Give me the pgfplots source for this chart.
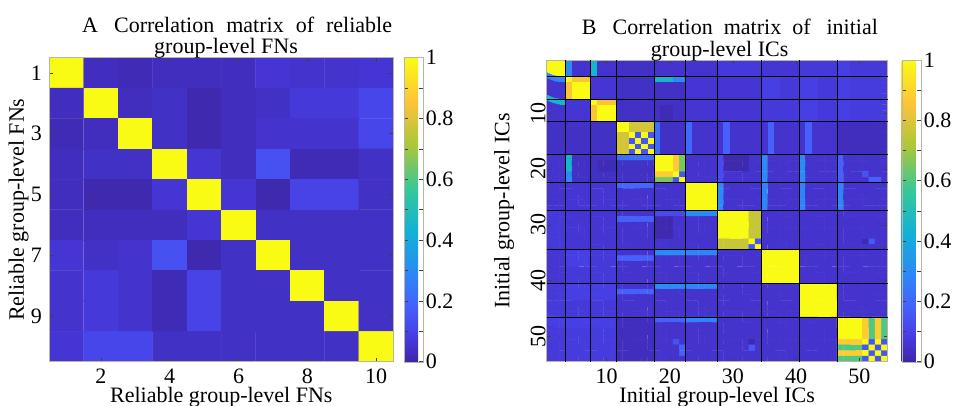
\documentclass[border=0pt]{standalone}
\usepackage{pgfplots}
\pgfplotsset{compat=1.18}
\usepackage{fontspec}
\setmainfont{Liberation Serif}
\definecolor{boxgray}{RGB}{185,180,165}
\pgfplotsset{
  colormap={parula}{rgb(0pt)=(0.2422,0.1504,0.6603); rgb(59pt)=(0.2691,0.2094,0.8249); rgb(75pt)=(0.2740,0.2280,0.8612); rgb(98pt)=(0.2788,0.2598,0.9035); rgb(122pt)=(0.2811,0.2930,0.9352); rgb(184pt)=(0.2726,0.3804,0.9881); rgb(286pt)=(0.1786,0.5289,0.9682); rgb(429pt)=(0.0689,0.6948,0.8394); rgb(571pt)=(0.2161,0.7843,0.5923); rgb(714pt)=(0.6720,0.7793,0.2227); rgb(857pt)=(0.9970,0.7659,0.2199); rgb(1000pt)=(0.9769,0.9839,0.0805)},
  colorbar shift/.style={},
  corrmat/.style={
    scale only axis, axis on top, enlargelimits=false, y dir=reverse,
    colormap name=parula, point meta min=0, point meta max=1,
    tick align=inside, major tick length=4pt,
    tick style={black!75, line width=0.5pt},
    axis line style={draw=boxgray, line width=0.7pt},
    /pgf/number format/assume math mode=true,
    every axis title/.style={at={(axis description cs:0,1)}, anchor=south west, align=left, yshift=-8.5pt, font=\fontsize{22}{21.5}\selectfont},
    every axis x label/.style={at={([yshift=-35.3pt]axis description cs:0.5,0)}, anchor=center},
    every axis y label/.style={at={([xshift=-30.8pt]axis description cs:0,0.5)}, rotate=90, anchor=center},
    colorbar,
    colorbar style={
      at={(parent axis.north east)}, anchor=north west,
      scale only axis, y dir=normal,
      ytick={0,0.2,0.4,0.6,0.8,1}, minor ytick={0.1,0.3,0.5,0.7,0.9},
      tick align=inside, major tick length=4pt, minor tick length=4pt,
      yticklabel pos=right,
      yticklabel style={inner sep=3pt, /pgf/number format/assume math mode=true},
      axis line style={draw=boxgray},
      tick style={black!75, line width=0.5pt},
    },
  },
}
\begin{document}
\fontsize{22}{24}\selectfont
\begin{tikzpicture}[x=1pt,y=1pt]
\path[use as bounding box] (0,0) rectangle (955,405);
\begin{axis}[corrmat, at={(49.3pt,43.3pt)}, anchor=south west, width=344pt, height=304pt,
  xmin=0.5, xmax=10.5, ymin=0.5, ymax=10.5,
  xtick={2,4,6,8,10}, ytick={1,3,5,7,9},
  xlabel={Reliable group-level FNs}, ylabel={Reliable group-level FNs},
  title={A\hspace{16pt}Correlation\hspace{12pt}matrix\hspace{12pt}of\hspace{12pt}reliable\\\hspace*{72pt}group-level FNs},
  title style={xshift=25.4pt},
  colorbar style={xshift=10.7pt, width=18.7pt}]
\addplot[matrix plot*, mesh/cols=10, point meta=explicit] table[row sep=\\, x expr={mod(\coordindex,10)+1}, y expr={floor(\coordindex/10)+1}, meta=c] {
c\\
1\\0.03\\0.02\\0.03\\0.03\\0.03\\0.06\\0.05\\0.05\\0.06\\
0.03\\1\\0.03\\0.04\\0.01\\0.03\\0.04\\0.07\\0.07\\0.11\\
0.02\\0.03\\1\\0.04\\0.01\\0.03\\0.05\\0.05\\0.05\\0.11\\
0.03\\0.04\\0.04\\1\\0.06\\0.03\\0.14\\0.02\\0.02\\0.04\\
0.03\\0.01\\0.01\\0.06\\1\\0.06\\0.01\\0.1\\0.1\\0.04\\
0.03\\0.03\\0.03\\0.03\\0.06\\1\\0.04\\0.04\\0.04\\0.04\\
0.06\\0.04\\0.05\\0.14\\0.01\\0.04\\1\\0.04\\0.04\\0.04\\
0.05\\0.07\\0.05\\0.02\\0.1\\0.04\\0.04\\1\\0.04\\0.04\\
0.05\\0.07\\0.05\\0.02\\0.1\\0.04\\0.04\\0.04\\1\\0.04\\
0.06\\0.11\\0.11\\0.04\\0.04\\0.04\\0.04\\0.04\\0.04\\1\\
};
\end{axis}
\begin{axis}[corrmat, at={(546.7pt,43.3pt)}, anchor=south west, width=341pt, height=301.7pt,
  xmin=0.5, xmax=54.5, ymin=0.5, ymax=54.5,
  xtick={10,20,30,40,50}, ytick={10,20,30,40,50},
  yticklabel style={rotate=90, anchor=south, inner sep=1pt},
  extra x ticks={3.5,7.5,11.5,17.5,22.5,27.5,34.5,40.5,46.5},
  extra y ticks={3.5,7.5,11.5,17.5,22.5,27.5,34.5,40.5,46.5},
  extra x tick labels={}, extra y tick labels={},
  extra x tick style={grid=major, major grid style={black, line width=1pt}, major tick length=0pt},
  extra y tick style={grid=major, major grid style={black, line width=1pt}, major tick length=0pt},
  xlabel={Initial group-level ICs}, ylabel={Initial group-level ICs},
  ylabel style={at={([xshift=-42.7pt]axis description cs:0,0.5)}},
  title={B\hspace{16pt}Correlation\hspace{11pt}matrix\hspace{11pt}of\hspace{16pt}initial\\\hspace*{69pt}group-level ICs},
  title style={xshift=27.7pt},
  colorbar style={xshift=14pt, width=19pt}]
\addplot[matrix plot*, mesh/cols=54, point meta=explicit] table[row sep=\\, x expr={mod(\coordindex,54)+1}, y expr={floor(\coordindex/54)+1}, meta=c] {
c\\
1\\1\\1\\ 0.3\\0.05\\0.05\\0.05\\ 0.45\\0.05\\0.05\\0.05\\ 0.04\\0.04\\0.04\\0.04\\0.04\\0.04\\ 0.05\\0.05\\0.05\\0.05\\0.05\\ 0.05\\0.05\\0.05\\0.05\\0.05\\ 0.07\\0.07\\0.07\\0.07\\0.07\\0.07\\0.07\\ 0.06\\0.06\\0.06\\0.06\\0.06\\0.06\\ 0.07\\0.07\\0.07\\0.07\\0.07\\0.07\\ 0.09\\0.09\\0.07\\0.07\\0.07\\0.07\\0.07\\0.07\\
1\\1\\1\\ 0.3\\0.05\\0.05\\0.05\\ 0.45\\0.05\\0.05\\0.05\\ 0.04\\0.04\\0.04\\0.04\\0.04\\0.04\\ 0.05\\0.05\\0.05\\0.05\\0.05\\ 0.05\\0.05\\0.05\\0.05\\0.05\\ 0.07\\0.07\\0.07\\0.07\\0.07\\0.07\\0.07\\ 0.06\\0.06\\0.06\\0.06\\0.06\\0.06\\ 0.07\\0.07\\0.07\\0.07\\0.07\\0.07\\ 0.09\\0.09\\0.07\\0.07\\0.07\\0.07\\0.07\\0.07\\
1\\1\\1\\ 0.3\\0.05\\0.05\\0.05\\ 0.45\\0.05\\0.05\\0.05\\ 0.04\\0.04\\0.04\\0.04\\0.04\\0.04\\ 0.05\\0.05\\0.05\\0.05\\0.05\\ 0.05\\0.05\\0.05\\0.05\\0.05\\ 0.07\\0.07\\0.07\\0.07\\0.07\\0.07\\0.07\\ 0.06\\0.06\\0.06\\0.06\\0.06\\0.06\\ 0.07\\0.07\\0.07\\0.07\\0.07\\0.07\\ 0.09\\0.09\\0.07\\0.07\\0.07\\0.07\\0.07\\0.07\\
0.3\\0.3\\0.3\\ 1\\0.85\\0.85\\0.85\\ 0.06\\0.06\\0.06\\0.06\\ 0.04\\0.04\\0.04\\0.04\\0.04\\0.04\\ 0.45\\0.45\\0.45\\0.3\\0.3\\ 0.06\\0.06\\0.06\\0.06\\0.06\\ 0.06\\0.06\\0.06\\0.06\\0.06\\0.06\\0.06\\ 0.09\\0.09\\0.09\\0.07\\0.07\\0.07\\ 0.09\\0.09\\0.09\\0.07\\0.07\\0.07\\ 0.09\\0.09\\0.08\\0.08\\0.08\\0.08\\0.08\\0.08\\
0.05\\0.05\\0.05\\ 0.85\\1\\1\\1\\ 0.06\\0.06\\0.06\\0.06\\ 0.04\\0.04\\0.04\\0.04\\0.04\\0.04\\ 0.04\\0.04\\0.04\\0.04\\0.04\\ 0.06\\0.06\\0.06\\0.06\\0.06\\ 0.06\\0.06\\0.06\\0.06\\0.06\\0.06\\0.06\\ 0.09\\0.09\\0.09\\0.07\\0.07\\0.07\\ 0.09\\0.09\\0.09\\0.07\\0.07\\0.07\\ 0.09\\0.09\\0.08\\0.08\\0.08\\0.08\\0.08\\0.08\\
0.05\\0.05\\0.05\\ 0.85\\1\\1\\1\\ 0.06\\0.06\\0.06\\0.06\\ 0.04\\0.04\\0.04\\0.04\\0.04\\0.04\\ 0.04\\0.04\\0.04\\0.04\\0.04\\ 0.06\\0.06\\0.06\\0.06\\0.06\\ 0.06\\0.06\\0.06\\0.06\\0.06\\0.06\\0.06\\ 0.09\\0.09\\0.09\\0.07\\0.07\\0.07\\ 0.09\\0.09\\0.09\\0.07\\0.07\\0.07\\ 0.09\\0.09\\0.08\\0.08\\0.08\\0.08\\0.08\\0.08\\
0.05\\0.05\\0.05\\ 0.85\\1\\1\\1\\ 0.06\\0.06\\0.06\\0.06\\ 0.04\\0.04\\0.04\\0.04\\0.04\\0.04\\ 0.04\\0.04\\0.04\\0.04\\0.04\\ 0.06\\0.06\\0.06\\0.06\\0.06\\ 0.06\\0.06\\0.06\\0.06\\0.06\\0.06\\0.06\\ 0.09\\0.09\\0.09\\0.07\\0.07\\0.07\\ 0.09\\0.09\\0.09\\0.07\\0.07\\0.07\\ 0.09\\0.09\\0.08\\0.08\\0.08\\0.08\\0.08\\0.08\\
0.45\\0.45\\0.45\\ 0.06\\0.06\\0.06\\0.06\\ 1\\0.85\\0.85\\0.85\\ 0.04\\0.04\\0.04\\0.04\\0.04\\0.04\\ 0.04\\0.04\\0.04\\0.04\\0.04\\ 0.06\\0.06\\0.06\\0.06\\0.06\\ 0.06\\0.06\\0.06\\0.06\\0.06\\0.06\\0.06\\ 0.07\\0.07\\0.07\\0.07\\0.07\\0.07\\ 0.09\\0.09\\0.09\\0.07\\0.07\\0.07\\ 0.09\\0.09\\0.08\\0.08\\0.08\\0.08\\0.08\\0.08\\
0.05\\0.05\\0.05\\ 0.06\\0.06\\0.06\\0.06\\ 0.85\\1\\1\\1\\ 0.04\\0.04\\0.04\\0.04\\0.04\\0.04\\ 0.04\\0.02\\0.02\\0.04\\0.04\\ 0.06\\0.06\\0.06\\0.06\\0.06\\ 0.06\\0.06\\0.06\\0.06\\0.06\\0.06\\0.06\\ 0.07\\0.07\\0.07\\0.07\\0.07\\0.07\\ 0.09\\0.09\\0.09\\0.07\\0.07\\0.07\\ 0.09\\0.09\\0.08\\0.08\\0.08\\0.08\\0.08\\0.08\\
0.05\\0.05\\0.05\\ 0.06\\0.06\\0.06\\0.06\\ 0.85\\1\\1\\1\\ 0.04\\0.04\\0.04\\0.04\\0.04\\0.04\\ 0.04\\0.02\\0.02\\0.04\\0.04\\ 0.06\\0.06\\0.06\\0.06\\0.06\\ 0.06\\0.06\\0.06\\0.06\\0.06\\0.06\\0.06\\ 0.07\\0.07\\0.07\\0.07\\0.07\\0.07\\ 0.09\\0.09\\0.09\\0.07\\0.07\\0.07\\ 0.09\\0.09\\0.08\\0.08\\0.08\\0.08\\0.08\\0.08\\
0.05\\0.05\\0.05\\ 0.06\\0.06\\0.06\\0.06\\ 0.85\\1\\1\\1\\ 0.04\\0.04\\0.04\\0.04\\0.04\\0.04\\ 0.04\\0.02\\0.02\\0.04\\0.04\\ 0.06\\0.06\\0.06\\0.06\\0.06\\ 0.06\\0.06\\0.06\\0.06\\0.06\\0.06\\0.06\\ 0.07\\0.07\\0.07\\0.07\\0.07\\0.07\\ 0.09\\0.09\\0.09\\0.07\\0.07\\0.07\\ 0.09\\0.09\\0.08\\0.08\\0.08\\0.08\\0.08\\0.08\\
0.04\\0.04\\0.04\\ 0.04\\0.04\\0.04\\0.04\\ 0.04\\0.04\\0.04\\0.04\\ 1\\1\\0.78\\0.78\\0.78\\0.78\\ 0.22\\0.04\\0.04\\0.04\\0.04\\ 0.2\\0.05\\0.05\\0.05\\0.05\\ 0.05\\0.18\\0.05\\0.05\\0.05\\0.05\\0.05\\ 0.05\\0.18\\0.05\\0.05\\0.05\\0.05\\ 0.05\\0.18\\0.05\\0.05\\0.05\\0.05\\ 0.03\\0.03\\0.03\\0.03\\0.03\\0.03\\0.03\\0.03\\
0.04\\0.04\\0.04\\ 0.04\\0.04\\0.04\\0.04\\ 0.04\\0.04\\0.04\\0.04\\ 1\\1\\0.78\\0.78\\0.78\\0.78\\ 0.22\\0.04\\0.04\\0.04\\0.04\\ 0.2\\0.05\\0.05\\0.05\\0.05\\ 0.05\\0.18\\0.05\\0.05\\0.05\\0.05\\0.05\\ 0.05\\0.18\\0.05\\0.05\\0.05\\0.05\\ 0.05\\0.18\\0.05\\0.05\\0.05\\0.05\\ 0.03\\0.03\\0.03\\0.03\\0.03\\0.03\\0.03\\0.03\\
0.04\\0.04\\0.04\\ 0.04\\0.04\\0.04\\0.04\\ 0.04\\0.04\\0.04\\0.04\\ 0.78\\0.78\\1\\0.15\\1\\0.15\\ 0.22\\0.04\\0.04\\0.04\\0.04\\ 0.2\\0.05\\0.05\\0.05\\0.05\\ 0.05\\0.18\\0.05\\0.05\\0.05\\0.05\\0.05\\ 0.05\\0.18\\0.05\\0.05\\0.05\\0.05\\ 0.05\\0.18\\0.05\\0.05\\0.05\\0.05\\ 0.03\\0.03\\0.03\\0.03\\0.03\\0.03\\0.03\\0.03\\
0.04\\0.04\\0.04\\ 0.04\\0.04\\0.04\\0.04\\ 0.04\\0.04\\0.04\\0.04\\ 0.78\\0.78\\0.15\\1\\0.15\\1\\ 0.22\\0.04\\0.04\\0.04\\0.04\\ 0.2\\0.05\\0.05\\0.05\\0.05\\ 0.05\\0.18\\0.05\\0.05\\0.05\\0.05\\0.05\\ 0.05\\0.18\\0.05\\0.05\\0.05\\0.05\\ 0.05\\0.18\\0.05\\0.05\\0.05\\0.05\\ 0.03\\0.03\\0.03\\0.03\\0.03\\0.03\\0.03\\0.03\\
0.04\\0.04\\0.04\\ 0.04\\0.04\\0.04\\0.04\\ 0.04\\0.04\\0.04\\0.04\\ 0.78\\0.78\\1\\0.15\\1\\0.15\\ 0.22\\0.04\\0.04\\0.04\\0.04\\ 0.2\\0.05\\0.05\\0.05\\0.05\\ 0.05\\0.18\\0.05\\0.05\\0.05\\0.05\\0.05\\ 0.05\\0.18\\0.05\\0.05\\0.05\\0.05\\ 0.05\\0.18\\0.05\\0.05\\0.05\\0.05\\ 0.03\\0.03\\0.03\\0.03\\0.03\\0.03\\0.03\\0.03\\
0.04\\0.04\\0.04\\ 0.04\\0.04\\0.04\\0.04\\ 0.04\\0.04\\0.04\\0.04\\ 0.78\\0.78\\0.15\\1\\0.15\\1\\ 0.22\\0.04\\0.04\\0.04\\0.04\\ 0.2\\0.05\\0.05\\0.05\\0.05\\ 0.05\\0.18\\0.05\\0.05\\0.05\\0.05\\0.05\\ 0.05\\0.18\\0.05\\0.05\\0.05\\0.05\\ 0.05\\0.18\\0.05\\0.05\\0.05\\0.05\\ 0.03\\0.03\\0.03\\0.03\\0.03\\0.03\\0.03\\0.03\\
0.05\\0.05\\0.05\\ 0.45\\0.04\\0.04\\0.04\\ 0.04\\0.04\\0.04\\0.04\\ 0.22\\0.22\\0.22\\0.22\\0.22\\0.22\\ 1\\1\\1\\0.88\\0.65\\ 0.05\\0.05\\0.05\\0.05\\0.05\\ 0.12\\0.01\\0.01\\0.01\\0.01\\0.05\\0.05\\ 0.3\\0.05\\0.05\\0.05\\0.05\\0.05\\ 0.3\\0.05\\0.05\\0.05\\0.05\\0.05\\ 0.18\\0.05\\0.05\\0.05\\0.05\\0.05\\0.05\\0.05\\
0.05\\0.05\\0.05\\ 0.45\\0.04\\0.04\\0.04\\ 0.04\\0.02\\0.02\\0.02\\ 0.04\\0.04\\0.04\\0.04\\0.04\\0.04\\ 1\\1\\1\\0.88\\0.65\\ 0.05\\0.05\\0.05\\0.05\\0.05\\ 0.12\\0.01\\0.01\\0.01\\0.01\\0.05\\0.05\\ 0.3\\0.05\\0.05\\0.05\\0.05\\0.05\\ 0.3\\0.05\\0.05\\0.05\\0.05\\0.05\\ 0.18\\0.05\\0.05\\0.05\\0.05\\0.05\\0.05\\0.05\\
0.05\\0.05\\0.05\\ 0.45\\0.04\\0.04\\0.04\\ 0.04\\0.02\\0.02\\0.02\\ 0.04\\0.04\\0.04\\0.04\\0.04\\0.04\\ 1\\1\\1\\0.88\\0.65\\ 0.05\\0.05\\0.05\\0.05\\0.05\\ 0.12\\0.01\\0.01\\0.01\\0.01\\0.05\\0.05\\ 0.3\\0.05\\0.05\\0.05\\0.05\\0.05\\ 0.3\\0.05\\0.05\\0.05\\0.05\\0.05\\ 0.18\\0.05\\0.05\\0.05\\0.05\\0.05\\0.05\\0.05\\
0.05\\0.05\\0.05\\ 0.3\\0.04\\0.04\\0.04\\ 0.04\\0.04\\0.04\\0.04\\ 0.04\\0.04\\0.04\\0.04\\0.04\\0.04\\ 0.88\\0.88\\0.88\\1\\0.15\\ 0.05\\0.05\\0.05\\0.05\\0.05\\ 0.12\\0.05\\0.05\\0.05\\0.05\\0.05\\0.05\\ 0.3\\0.05\\0.05\\0.05\\0.05\\0.05\\ 0.3\\0.05\\0.05\\0.05\\0.05\\0.05\\ 0.18\\0.05\\0.05\\0.05\\0.14\\0.05\\0.05\\0.05\\
0.05\\0.05\\0.05\\ 0.3\\0.04\\0.04\\0.04\\ 0.04\\0.04\\0.04\\0.04\\ 0.04\\0.04\\0.04\\0.04\\0.04\\0.04\\ 0.65\\0.65\\0.65\\0.15\\1\\ 0.05\\0.05\\0.05\\0.05\\0.05\\ 0.12\\0.05\\0.05\\0.05\\0.05\\0.05\\0.05\\ 0.3\\0.05\\0.05\\0.05\\0.05\\0.05\\ 0.3\\0.05\\0.05\\0.05\\0.05\\0.05\\ 0.18\\0.05\\0.05\\0.05\\0.05\\0.18\\0.18\\0.05\\
0.05\\0.05\\0.05\\ 0.06\\0.06\\0.06\\0.06\\ 0.06\\0.06\\0.06\\0.06\\ 0.2\\0.2\\0.2\\0.2\\0.2\\0.2\\ 0.05\\0.05\\0.05\\0.05\\0.05\\ 1\\1\\1\\1\\1\\ 0.3\\0.05\\0.05\\0.05\\0.05\\0.05\\0.05\\ 0.28\\0.05\\0.05\\0.05\\0.05\\0.05\\ 0.28\\0.05\\0.05\\0.05\\0.05\\0.05\\ 0.28\\0.05\\0.05\\0.05\\0.05\\0.05\\0.05\\0.05\\
0.05\\0.05\\0.05\\ 0.06\\0.06\\0.06\\0.06\\ 0.06\\0.06\\0.06\\0.06\\ 0.05\\0.05\\0.05\\0.05\\0.05\\0.05\\ 0.05\\0.05\\0.05\\0.05\\0.05\\ 1\\1\\1\\1\\1\\ 0.3\\0.05\\0.05\\0.05\\0.05\\0.05\\0.05\\ 0.28\\0.05\\0.05\\0.05\\0.05\\0.05\\ 0.28\\0.05\\0.05\\0.05\\0.05\\0.05\\ 0.28\\0.05\\0.05\\0.05\\0.05\\0.05\\0.05\\0.05\\
0.05\\0.05\\0.05\\ 0.06\\0.06\\0.06\\0.06\\ 0.06\\0.06\\0.06\\0.06\\ 0.05\\0.05\\0.05\\0.05\\0.05\\0.05\\ 0.05\\0.05\\0.05\\0.05\\0.05\\ 1\\1\\1\\1\\1\\ 0.3\\0.05\\0.05\\0.05\\0.05\\0.05\\0.05\\ 0.28\\0.05\\0.05\\0.05\\0.05\\0.05\\ 0.28\\0.05\\0.05\\0.05\\0.05\\0.05\\ 0.28\\0.05\\0.05\\0.05\\0.05\\0.05\\0.05\\0.05\\
0.05\\0.05\\0.05\\ 0.06\\0.06\\0.06\\0.06\\ 0.06\\0.06\\0.06\\0.06\\ 0.05\\0.05\\0.05\\0.05\\0.05\\0.05\\ 0.05\\0.05\\0.05\\0.05\\0.05\\ 1\\1\\1\\1\\1\\ 0.3\\0.05\\0.05\\0.05\\0.05\\0.05\\0.05\\ 0.28\\0.05\\0.05\\0.05\\0.05\\0.05\\ 0.28\\0.05\\0.05\\0.05\\0.05\\0.05\\ 0.28\\0.05\\0.05\\0.05\\0.05\\0.05\\0.05\\0.05\\
0.05\\0.05\\0.05\\ 0.06\\0.06\\0.06\\0.06\\ 0.06\\0.06\\0.06\\0.06\\ 0.05\\0.05\\0.05\\0.05\\0.05\\0.05\\ 0.05\\0.05\\0.05\\0.05\\0.05\\ 1\\1\\1\\1\\1\\ 0.3\\0.05\\0.05\\0.05\\0.05\\0.05\\0.05\\ 0.28\\0.05\\0.05\\0.05\\0.05\\0.05\\ 0.28\\0.05\\0.05\\0.05\\0.05\\0.05\\ 0.28\\0.05\\0.05\\0.05\\0.05\\0.05\\0.05\\0.05\\
0.07\\0.07\\0.07\\ 0.06\\0.06\\0.06\\0.06\\ 0.06\\0.06\\0.06\\0.06\\ 0.05\\0.05\\0.05\\0.05\\0.05\\0.05\\ 0.12\\0.12\\0.12\\0.12\\0.12\\ 0.3\\0.3\\0.3\\0.3\\0.3\\ 1\\1\\1\\1\\1\\0.76\\0.76\\ 0.05\\0.05\\0.05\\0.05\\0.05\\0.05\\ 0.05\\0.05\\0.05\\0.05\\0.05\\0.05\\ 0.05\\0.05\\0.05\\0.05\\0.05\\0.05\\0.05\\0.05\\
0.07\\0.07\\0.07\\ 0.06\\0.06\\0.06\\0.06\\ 0.06\\0.06\\0.06\\0.06\\ 0.18\\0.18\\0.18\\0.18\\0.18\\0.18\\ 0.01\\0.01\\0.01\\0.05\\0.05\\ 0.05\\0.05\\0.05\\0.05\\0.05\\ 1\\1\\1\\1\\1\\0.76\\0.76\\ 0.05\\0.05\\0.05\\0.05\\0.05\\0.05\\ 0.05\\0.05\\0.05\\0.05\\0.05\\0.05\\ 0.05\\0.05\\0.05\\0.05\\0.05\\0.05\\0.05\\0.05\\
0.07\\0.07\\0.07\\ 0.06\\0.06\\0.06\\0.06\\ 0.06\\0.06\\0.06\\0.06\\ 0.05\\0.05\\0.05\\0.05\\0.05\\0.05\\ 0.01\\0.01\\0.01\\0.05\\0.05\\ 0.05\\0.05\\0.05\\0.05\\0.05\\ 1\\1\\1\\1\\1\\0.76\\0.76\\ 0.05\\0.05\\0.05\\0.05\\0.05\\0.05\\ 0.05\\0.05\\0.05\\0.05\\0.05\\0.05\\ 0.05\\0.05\\0.05\\0.05\\0.05\\0.05\\0.05\\0.05\\
0.07\\0.07\\0.07\\ 0.06\\0.06\\0.06\\0.06\\ 0.06\\0.06\\0.06\\0.06\\ 0.05\\0.05\\0.05\\0.05\\0.05\\0.05\\ 0.01\\0.01\\0.01\\0.05\\0.05\\ 0.05\\0.05\\0.05\\0.05\\0.05\\ 1\\1\\1\\1\\1\\0.76\\0.76\\ 0.05\\0.05\\0.05\\0.05\\0.05\\0.05\\ 0.05\\0.05\\0.05\\0.05\\0.05\\0.05\\ 0.05\\0.05\\0.05\\0.05\\0.05\\0.05\\0.05\\0.05\\
0.07\\0.07\\0.07\\ 0.06\\0.06\\0.06\\0.06\\ 0.06\\0.06\\0.06\\0.06\\ 0.05\\0.05\\0.05\\0.05\\0.05\\0.05\\ 0.01\\0.01\\0.01\\0.05\\0.05\\ 0.05\\0.05\\0.05\\0.05\\0.05\\ 1\\1\\1\\1\\1\\0.76\\0.76\\ 0.05\\0.05\\0.05\\0.05\\0.05\\0.05\\ 0.05\\0.05\\0.05\\0.05\\0.05\\0.05\\ 0.05\\0.05\\0.05\\0.05\\0.05\\0.05\\0.05\\0.05\\
0.07\\0.07\\0.07\\ 0.06\\0.06\\0.06\\0.06\\ 0.06\\0.06\\0.06\\0.06\\ 0.05\\0.05\\0.05\\0.05\\0.05\\0.05\\ 0.05\\0.05\\0.05\\0.05\\0.05\\ 0.05\\0.05\\0.05\\0.05\\0.05\\ 0.76\\0.76\\0.76\\0.76\\0.76\\1\\0.15\\ 0.05\\0.05\\0.05\\0.05\\0.05\\0.05\\ 0.05\\0.05\\0.05\\0.05\\0.05\\0.05\\ 0.05\\0.05\\0.05\\0.05\\0.01\\0.16\\0.05\\0.05\\
0.07\\0.07\\0.07\\ 0.06\\0.06\\0.06\\0.06\\ 0.06\\0.06\\0.06\\0.06\\ 0.05\\0.05\\0.05\\0.05\\0.05\\0.05\\ 0.05\\0.05\\0.05\\0.05\\0.05\\ 0.05\\0.05\\0.05\\0.05\\0.05\\ 0.76\\0.76\\0.76\\0.76\\0.76\\0.15\\1\\ 0.05\\0.05\\0.05\\0.05\\0.05\\0.05\\ 0.05\\0.05\\0.05\\0.05\\0.05\\0.05\\ 0.05\\0.05\\0.05\\0.05\\0.05\\0.05\\0.05\\0.05\\
0.06\\0.06\\0.06\\ 0.09\\0.09\\0.09\\0.09\\ 0.07\\0.07\\0.07\\0.07\\ 0.05\\0.05\\0.05\\0.05\\0.05\\0.05\\ 0.3\\0.3\\0.3\\0.3\\0.3\\ 0.28\\0.28\\0.28\\0.28\\0.28\\ 0.05\\0.05\\0.05\\0.05\\0.05\\0.05\\0.05\\ 1\\1\\1\\1\\1\\1\\ 0.05\\0.05\\0.05\\0.05\\0.05\\0.05\\ 0.05\\0.05\\0.05\\0.05\\0.05\\0.05\\0.05\\0.05\\
0.06\\0.06\\0.06\\ 0.09\\0.09\\0.09\\0.09\\ 0.07\\0.07\\0.07\\0.07\\ 0.18\\0.18\\0.18\\0.18\\0.18\\0.18\\ 0.05\\0.05\\0.05\\0.05\\0.05\\ 0.05\\0.05\\0.05\\0.05\\0.05\\ 0.05\\0.05\\0.05\\0.05\\0.05\\0.05\\0.05\\ 1\\1\\1\\1\\1\\1\\ 0.05\\0.05\\0.05\\0.05\\0.05\\0.05\\ 0.05\\0.05\\0.05\\0.05\\0.05\\0.05\\0.05\\0.05\\
0.06\\0.06\\0.06\\ 0.09\\0.09\\0.09\\0.09\\ 0.07\\0.07\\0.07\\0.07\\ 0.05\\0.05\\0.05\\0.05\\0.05\\0.05\\ 0.05\\0.05\\0.05\\0.05\\0.05\\ 0.05\\0.05\\0.05\\0.05\\0.05\\ 0.05\\0.05\\0.05\\0.05\\0.05\\0.05\\0.05\\ 1\\1\\1\\1\\1\\1\\ 0.05\\0.05\\0.05\\0.05\\0.05\\0.05\\ 0.05\\0.05\\0.05\\0.05\\0.05\\0.05\\0.05\\0.05\\
0.06\\0.06\\0.06\\ 0.07\\0.07\\0.07\\0.07\\ 0.07\\0.07\\0.07\\0.07\\ 0.05\\0.05\\0.05\\0.05\\0.05\\0.05\\ 0.05\\0.05\\0.05\\0.05\\0.05\\ 0.05\\0.05\\0.05\\0.05\\0.05\\ 0.05\\0.05\\0.05\\0.05\\0.05\\0.05\\0.05\\ 1\\1\\1\\1\\1\\1\\ 0.05\\0.05\\0.05\\0.05\\0.05\\0.05\\ 0.05\\0.05\\0.05\\0.05\\0.05\\0.05\\0.05\\0.05\\
0.06\\0.06\\0.06\\ 0.07\\0.07\\0.07\\0.07\\ 0.07\\0.07\\0.07\\0.07\\ 0.05\\0.05\\0.05\\0.05\\0.05\\0.05\\ 0.05\\0.05\\0.05\\0.05\\0.05\\ 0.05\\0.05\\0.05\\0.05\\0.05\\ 0.05\\0.05\\0.05\\0.05\\0.05\\0.05\\0.05\\ 1\\1\\1\\1\\1\\1\\ 0.05\\0.05\\0.05\\0.05\\0.05\\0.05\\ 0.05\\0.05\\0.05\\0.05\\0.05\\0.05\\0.05\\0.05\\
0.06\\0.06\\0.06\\ 0.07\\0.07\\0.07\\0.07\\ 0.07\\0.07\\0.07\\0.07\\ 0.05\\0.05\\0.05\\0.05\\0.05\\0.05\\ 0.05\\0.05\\0.05\\0.05\\0.05\\ 0.05\\0.05\\0.05\\0.05\\0.05\\ 0.05\\0.05\\0.05\\0.05\\0.05\\0.05\\0.05\\ 1\\1\\1\\1\\1\\1\\ 0.05\\0.05\\0.05\\0.05\\0.05\\0.05\\ 0.05\\0.05\\0.05\\0.05\\0.05\\0.05\\0.05\\0.05\\
0.07\\0.07\\0.07\\ 0.09\\0.09\\0.09\\0.09\\ 0.09\\0.09\\0.09\\0.09\\ 0.05\\0.05\\0.05\\0.05\\0.05\\0.05\\ 0.3\\0.3\\0.3\\0.3\\0.3\\ 0.28\\0.28\\0.28\\0.28\\0.28\\ 0.05\\0.05\\0.05\\0.05\\0.05\\0.05\\0.05\\ 0.05\\0.05\\0.05\\0.05\\0.05\\0.05\\ 1\\1\\1\\1\\1\\1\\ 0.05\\0.05\\0.05\\0.05\\0.05\\0.05\\0.05\\0.05\\
0.07\\0.07\\0.07\\ 0.09\\0.09\\0.09\\0.09\\ 0.09\\0.09\\0.09\\0.09\\ 0.18\\0.18\\0.18\\0.18\\0.18\\0.18\\ 0.05\\0.05\\0.05\\0.05\\0.05\\ 0.05\\0.05\\0.05\\0.05\\0.05\\ 0.05\\0.05\\0.05\\0.05\\0.05\\0.05\\0.05\\ 0.05\\0.05\\0.05\\0.05\\0.05\\0.05\\ 1\\1\\1\\1\\1\\1\\ 0.05\\0.05\\0.05\\0.05\\0.05\\0.05\\0.05\\0.05\\
0.07\\0.07\\0.07\\ 0.09\\0.09\\0.09\\0.09\\ 0.09\\0.09\\0.09\\0.09\\ 0.05\\0.05\\0.05\\0.05\\0.05\\0.05\\ 0.05\\0.05\\0.05\\0.05\\0.05\\ 0.05\\0.05\\0.05\\0.05\\0.05\\ 0.05\\0.05\\0.05\\0.05\\0.05\\0.05\\0.05\\ 0.05\\0.05\\0.05\\0.05\\0.05\\0.05\\ 1\\1\\1\\1\\1\\1\\ 0.05\\0.05\\0.05\\0.05\\0.05\\0.05\\0.05\\0.05\\
0.07\\0.07\\0.07\\ 0.07\\0.07\\0.07\\0.07\\ 0.07\\0.07\\0.07\\0.07\\ 0.05\\0.05\\0.05\\0.05\\0.05\\0.05\\ 0.05\\0.05\\0.05\\0.05\\0.05\\ 0.05\\0.05\\0.05\\0.05\\0.05\\ 0.05\\0.05\\0.05\\0.05\\0.05\\0.05\\0.05\\ 0.05\\0.05\\0.05\\0.05\\0.05\\0.05\\ 1\\1\\1\\1\\1\\1\\ 0.05\\0.05\\0.05\\0.05\\0.05\\0.05\\0.05\\0.05\\
0.07\\0.07\\0.07\\ 0.07\\0.07\\0.07\\0.07\\ 0.07\\0.07\\0.07\\0.07\\ 0.05\\0.05\\0.05\\0.05\\0.05\\0.05\\ 0.05\\0.05\\0.05\\0.05\\0.05\\ 0.05\\0.05\\0.05\\0.05\\0.05\\ 0.05\\0.05\\0.05\\0.05\\0.05\\0.05\\0.05\\ 0.05\\0.05\\0.05\\0.05\\0.05\\0.05\\ 1\\1\\1\\1\\1\\1\\ 0.05\\0.05\\0.05\\0.05\\0.05\\0.05\\0.05\\0.05\\
0.07\\0.07\\0.07\\ 0.07\\0.07\\0.07\\0.07\\ 0.07\\0.07\\0.07\\0.07\\ 0.05\\0.05\\0.05\\0.05\\0.05\\0.05\\ 0.05\\0.05\\0.05\\0.05\\0.05\\ 0.05\\0.05\\0.05\\0.05\\0.05\\ 0.05\\0.05\\0.05\\0.05\\0.05\\0.05\\0.05\\ 0.05\\0.05\\0.05\\0.05\\0.05\\0.05\\ 1\\1\\1\\1\\1\\1\\ 0.05\\0.05\\0.05\\0.05\\0.05\\0.05\\0.05\\0.05\\
0.09\\0.09\\0.09\\ 0.09\\0.09\\0.09\\0.09\\ 0.09\\0.09\\0.09\\0.09\\ 0.03\\0.03\\0.03\\0.03\\0.03\\0.03\\ 0.18\\0.18\\0.18\\0.18\\0.18\\ 0.28\\0.28\\0.28\\0.28\\0.28\\ 0.05\\0.05\\0.05\\0.05\\0.05\\0.05\\0.05\\ 0.05\\0.05\\0.05\\0.05\\0.05\\0.05\\ 0.05\\0.05\\0.05\\0.05\\0.05\\0.05\\ 1\\1\\1\\1\\0.88\\0.6\\0.88\\0.6\\
0.09\\0.09\\0.09\\ 0.09\\0.09\\0.09\\0.09\\ 0.09\\0.09\\0.09\\0.09\\ 0.03\\0.03\\0.03\\0.03\\0.03\\0.03\\ 0.05\\0.05\\0.05\\0.05\\0.05\\ 0.05\\0.05\\0.05\\0.05\\0.05\\ 0.05\\0.05\\0.05\\0.05\\0.05\\0.05\\0.05\\ 0.05\\0.05\\0.05\\0.05\\0.05\\0.05\\ 0.05\\0.05\\0.05\\0.05\\0.05\\0.05\\ 1\\1\\1\\1\\0.88\\0.6\\0.88\\0.6\\
0.07\\0.07\\0.07\\ 0.08\\0.08\\0.08\\0.08\\ 0.08\\0.08\\0.08\\0.08\\ 0.03\\0.03\\0.03\\0.03\\0.03\\0.03\\ 0.05\\0.05\\0.05\\0.05\\0.05\\ 0.05\\0.05\\0.05\\0.05\\0.05\\ 0.05\\0.05\\0.05\\0.05\\0.05\\0.05\\0.05\\ 0.05\\0.05\\0.05\\0.05\\0.05\\0.05\\ 0.05\\0.05\\0.05\\0.05\\0.05\\0.05\\ 1\\1\\1\\1\\0.88\\0.6\\0.88\\0.6\\
0.07\\0.07\\0.07\\ 0.08\\0.08\\0.08\\0.08\\ 0.08\\0.08\\0.08\\0.08\\ 0.03\\0.03\\0.03\\0.03\\0.03\\0.03\\ 0.05\\0.05\\0.05\\0.05\\0.05\\ 0.05\\0.05\\0.05\\0.05\\0.05\\ 0.05\\0.05\\0.05\\0.05\\0.05\\0.05\\0.05\\ 0.05\\0.05\\0.05\\0.05\\0.05\\0.05\\ 0.05\\0.05\\0.05\\0.05\\0.05\\0.05\\ 1\\1\\1\\1\\0.88\\0.6\\0.88\\0.6\\
0.07\\0.07\\0.07\\ 0.08\\0.08\\0.08\\0.08\\ 0.08\\0.08\\0.08\\0.08\\ 0.03\\0.03\\0.03\\0.03\\0.03\\0.03\\ 0.05\\0.05\\0.05\\0.14\\0.05\\ 0.05\\0.05\\0.05\\0.05\\0.05\\ 0.05\\0.05\\0.05\\0.05\\0.05\\0.01\\0.05\\ 0.05\\0.05\\0.05\\0.05\\0.05\\0.05\\ 0.05\\0.05\\0.05\\0.05\\0.05\\0.05\\ 0.88\\0.88\\0.88\\0.88\\1\\0.15\\1\\0.15\\
0.07\\0.07\\0.07\\ 0.08\\0.08\\0.08\\0.08\\ 0.08\\0.08\\0.08\\0.08\\ 0.03\\0.03\\0.03\\0.03\\0.03\\0.03\\ 0.05\\0.05\\0.05\\0.05\\0.18\\ 0.05\\0.05\\0.05\\0.05\\0.05\\ 0.05\\0.05\\0.05\\0.05\\0.05\\0.16\\0.05\\ 0.05\\0.05\\0.05\\0.05\\0.05\\0.05\\ 0.05\\0.05\\0.05\\0.05\\0.05\\0.05\\ 0.6\\0.6\\0.6\\0.6\\0.15\\1\\0.15\\1\\
0.07\\0.07\\0.07\\ 0.08\\0.08\\0.08\\0.08\\ 0.08\\0.08\\0.08\\0.08\\ 0.03\\0.03\\0.03\\0.03\\0.03\\0.03\\ 0.05\\0.05\\0.05\\0.05\\0.18\\ 0.05\\0.05\\0.05\\0.05\\0.05\\ 0.05\\0.05\\0.05\\0.05\\0.05\\0.05\\0.05\\ 0.05\\0.05\\0.05\\0.05\\0.05\\0.05\\ 0.05\\0.05\\0.05\\0.05\\0.05\\0.05\\ 0.88\\0.88\\0.88\\0.88\\1\\0.15\\1\\0.15\\
0.07\\0.07\\0.07\\ 0.08\\0.08\\0.08\\0.08\\ 0.08\\0.08\\0.08\\0.08\\ 0.03\\0.03\\0.03\\0.03\\0.03\\0.03\\ 0.05\\0.05\\0.05\\0.05\\0.05\\ 0.05\\0.05\\0.05\\0.05\\0.05\\ 0.05\\0.05\\0.05\\0.05\\0.05\\0.05\\0.05\\ 0.05\\0.05\\0.05\\0.05\\0.05\\0.05\\ 0.05\\0.05\\0.05\\0.05\\0.05\\0.05\\ 0.6\\0.6\\0.6\\0.6\\0.15\\1\\0.15\\1\\
};
\end{axis}
\end{tikzpicture}
\end{document}
